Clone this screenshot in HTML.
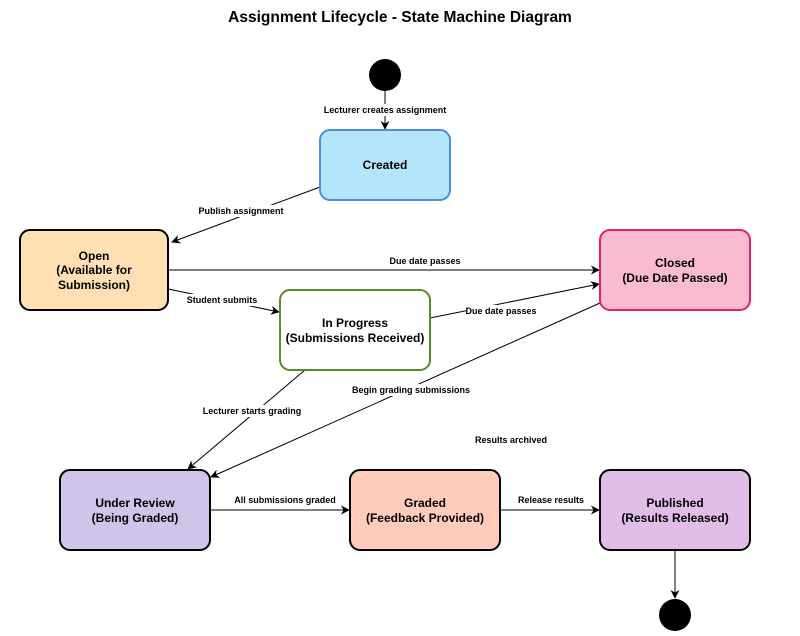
<!DOCTYPE html>
<html><head><style>body{margin:0;background:#fff}svg text{font-family:"Liberation Sans",sans-serif}</style></head><body>
<svg width="800" height="631" viewBox="0 0 800 631" xmlns="http://www.w3.org/2000/svg">
<defs><marker id="a" viewBox="0 0 10 10" refX="9" refY="5" markerWidth="9" markerHeight="9" orient="auto" markerUnits="userSpaceOnUse"><path d="M0,0 L10,5 L0,10 L3,5 z" fill="#000"/></marker></defs>
<rect width="800" height="631" fill="#fff"/>
<text x="400" y="22" text-anchor="middle" font-size="15.5" font-weight="bold">Assignment Lifecycle - State Machine Diagram</text>
<circle cx="385" cy="75" r="16" fill="#000"/>
<circle cx="675" cy="615" r="16" fill="#000"/>
<g stroke="#000" stroke-width="1" fill="none" marker-end="url(#a)">
<line x1="385" y1="91" x2="385" y2="129"/>
<line x1="320" y1="187" x2="172" y2="242"/>
<line x1="168" y1="270" x2="599" y2="270"/>
<line x1="168" y1="289" x2="279" y2="312"/>
<line x1="430" y1="318" x2="599" y2="284"/>
<line x1="305" y1="370" x2="188" y2="469"/>
<line x1="600" y1="303" x2="211" y2="477"/>
<line x1="210" y1="510" x2="349" y2="510"/>
<line x1="500" y1="510" x2="599" y2="510"/>
<line x1="675" y1="550" x2="675" y2="598"/>
</g>
<g stroke-width="2">
<rect x="320" y="130" width="130" height="70" rx="10" fill="#b3e5fc" stroke="#4a90d9"/>
<rect x="20" y="230" width="148" height="80" rx="10" fill="#ffe0b2" stroke="#000"/>
<rect x="600" y="230" width="150" height="80" rx="10" fill="#f8bbd0" stroke="#e0245e"/>
<rect x="280" y="290" width="150" height="80" rx="10" fill="#fff" stroke="#5a8a2a"/>
<rect x="60" y="470" width="150" height="80" rx="10" fill="#d1c4e9" stroke="#000"/>
<rect x="350" y="470" width="150" height="80" rx="10" fill="#ffccbc" stroke="#000"/>
<rect x="600" y="470" width="150" height="80" rx="10" fill="#e1bee7" stroke="#000"/>
</g>
<g font-size="12" font-weight="bold" text-anchor="middle">
<text x="385" y="169">Created</text>
<text x="94" y="260">Open</text><text x="94" y="274">(Available for</text><text x="94" y="289">Submission)</text>
<text x="675" y="267">Closed</text><text x="675" y="282">(Due Date Passed)</text>
<text x="355" y="327">In Progress</text><text x="355" y="342">(Submissions Received)</text>
<text x="135" y="507">Under Review</text><text x="135" y="522">(Being Graded)</text>
<text x="425" y="507">Graded</text><text x="425" y="522">(Feedback Provided)</text>
<text x="675" y="507">Published</text><text x="675" y="522">(Results Released)</text>
</g>
<g font-size="9" text-anchor="middle" font-weight="bold">
<rect x="324" y="104" width="122" height="12" fill="#fff"/><text x="385" y="113">Lecturer creates assignment</text>
<rect x="197" y="205" width="88" height="12" fill="#fff"/><text x="241" y="214">Publish assignment</text>
<text x="425" y="264">Due date passes</text>
<rect x="185" y="294" width="74" height="12" fill="#fff"/><text x="222" y="303">Student submits</text>
<rect x="466" y="305" width="72" height="12" fill="#fff"/><text x="501" y="314">Due date passes</text>
<rect x="200" y="405" width="104" height="12" fill="#fff"/><text x="252" y="414">Lecturer starts grading</text>
<rect x="350" y="384" width="122" height="12" fill="#fff"/><text x="411" y="393">Begin grading submissions</text>
<text x="511" y="443">Results archived</text>
<text x="285" y="503">All submissions graded</text>
<text x="551" y="503">Release results</text>
</g>
</svg>
</body></html>
